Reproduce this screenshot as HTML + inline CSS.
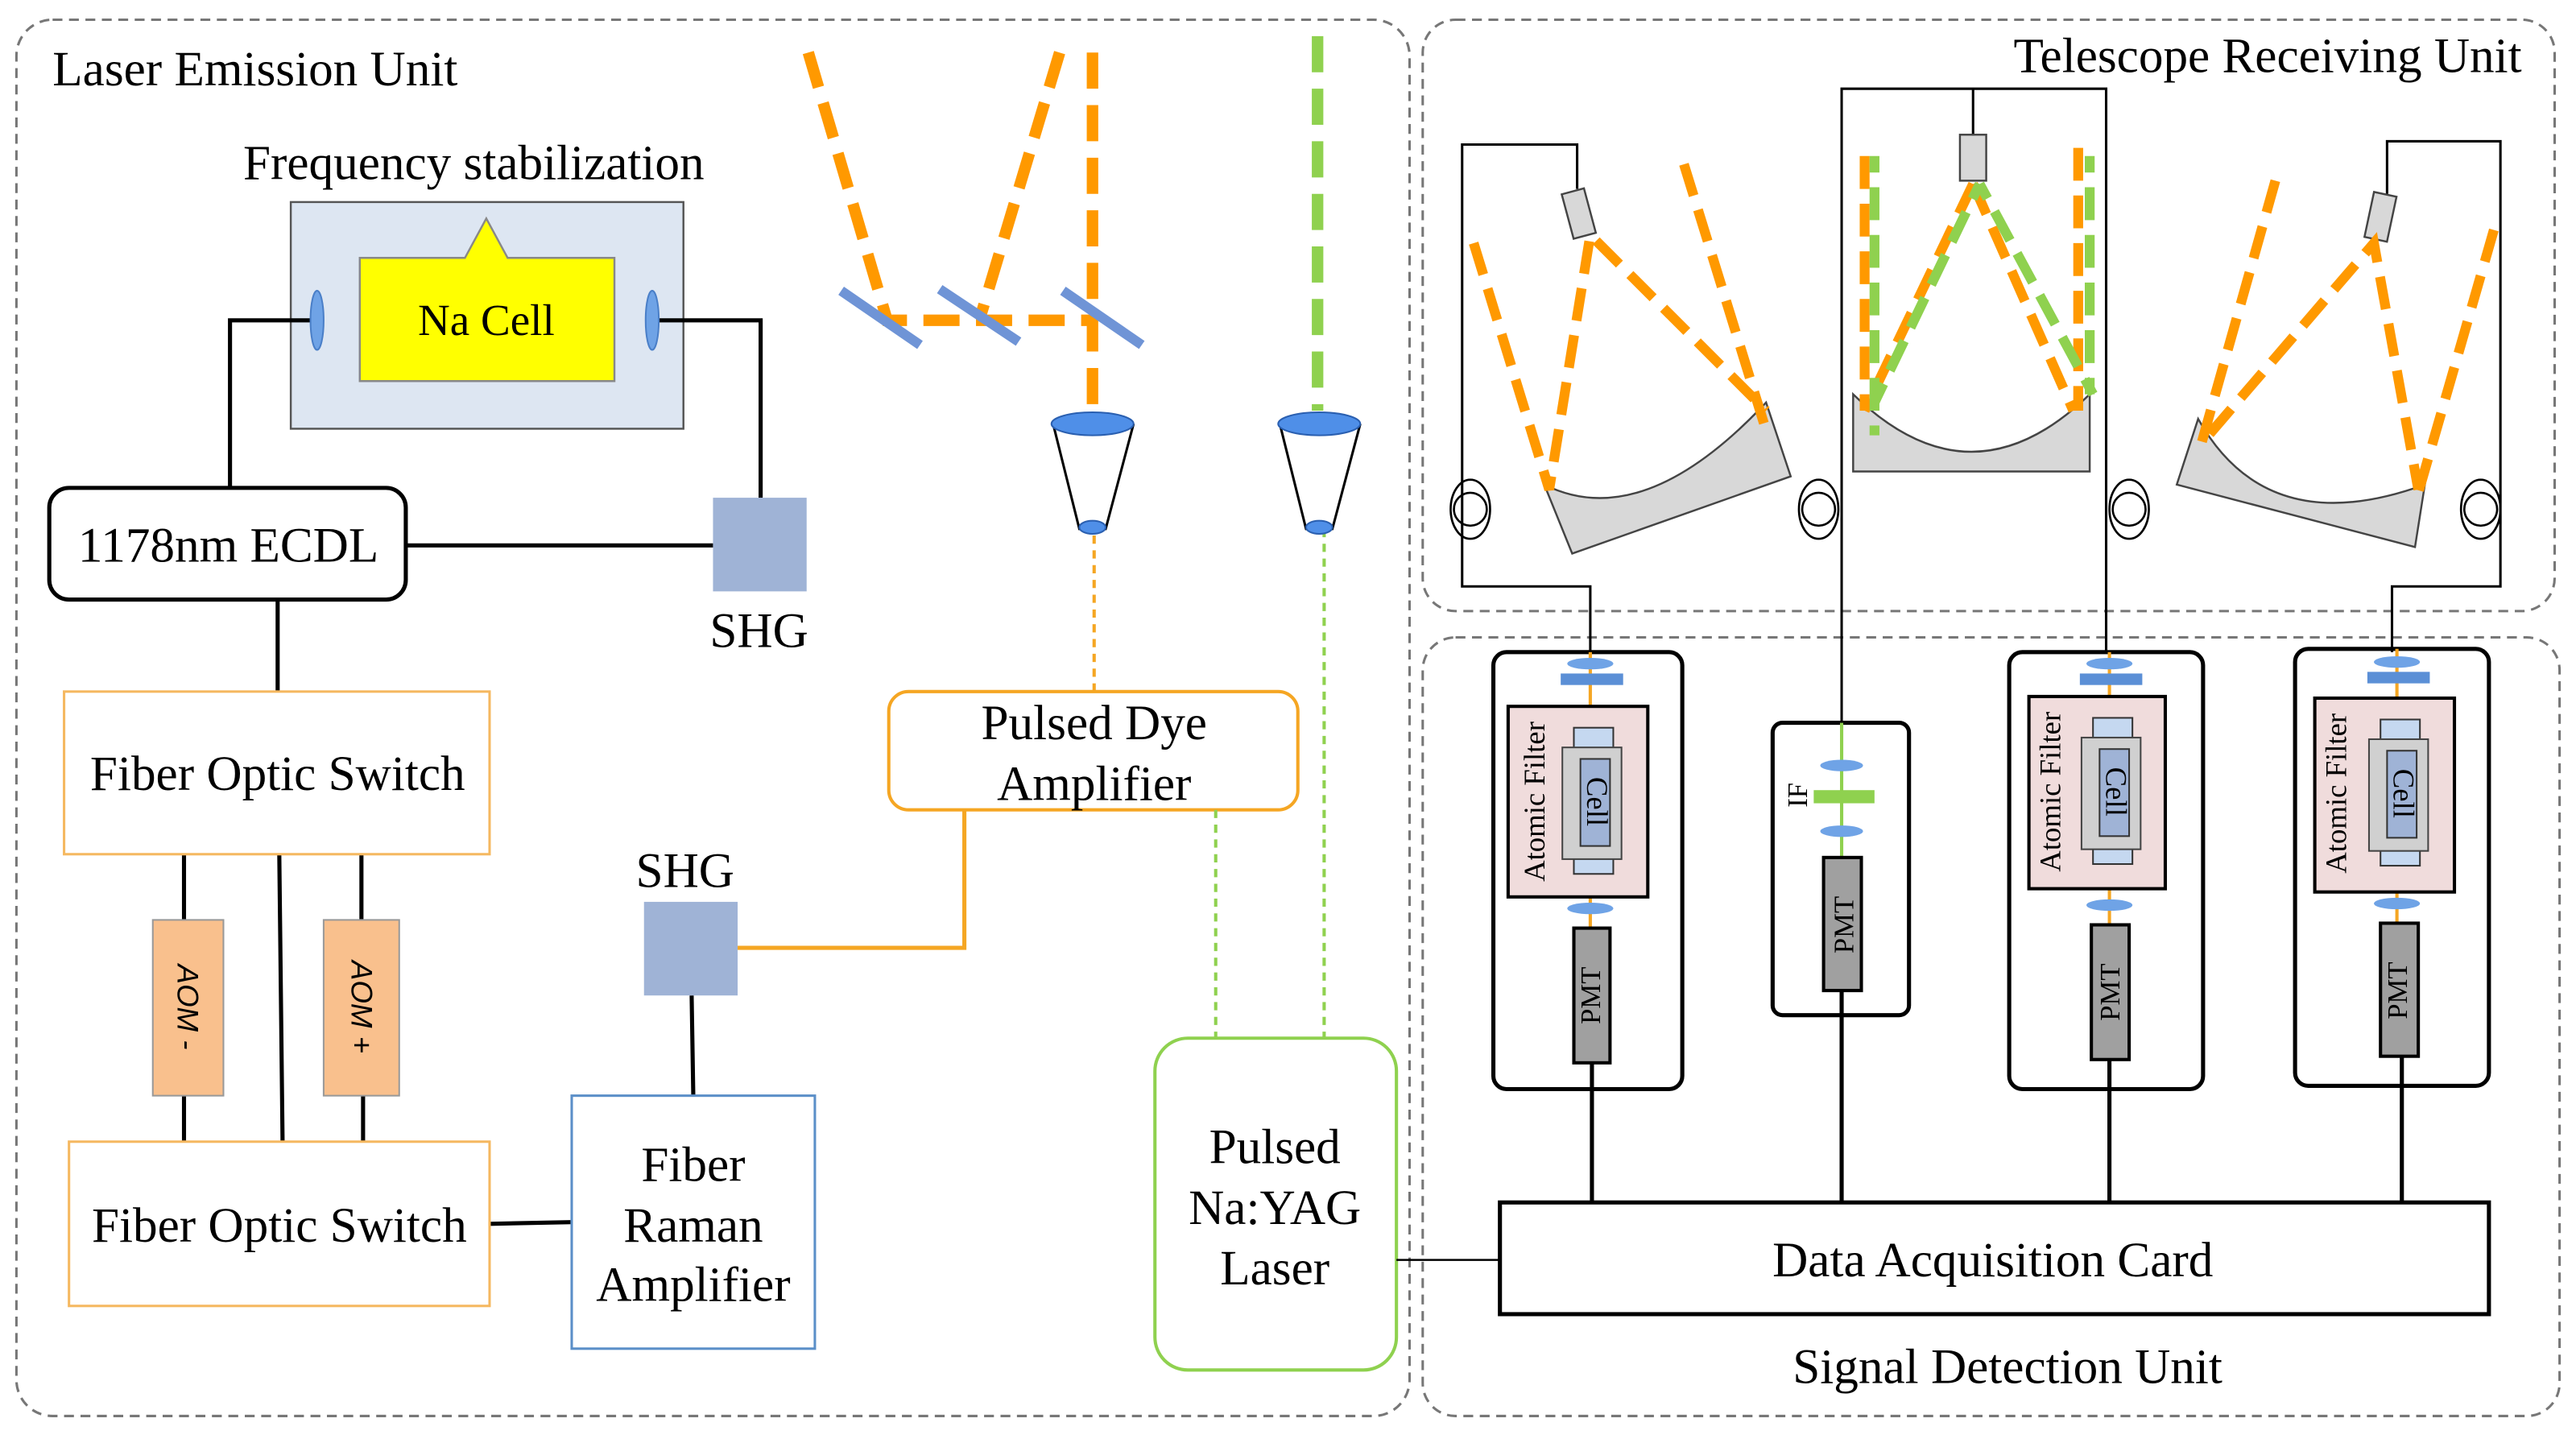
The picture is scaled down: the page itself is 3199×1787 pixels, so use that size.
<!DOCTYPE html>
<html><head><meta charset="utf-8"><style>html,body{margin:0;padding:0;background:#fff}svg{display:block}</style></head><body>
<svg width="3199" height="1787" viewBox="0 0 1568 876" preserveAspectRatio="none" xmlns="http://www.w3.org/2000/svg" font-family="Liberation Serif, serif">
<g fill="none" stroke="#777" stroke-width="1.5" stroke-dasharray="6,4">
<rect x="10" y="12" width="848" height="850" rx="22"/>
<rect x="866" y="12" width="689" height="360" rx="20"/>
<rect x="866" y="388" width="692" height="474" rx="20"/>
</g>
<g font-size="30" fill="#000">
<text x="32" y="52">Laser Emission Unit</text>
<text x="148" y="109">Frequency stabilization</text>
<text x="1535" y="44" text-anchor="end">Telescope Receiving Unit</text>
<text x="1222" y="842" text-anchor="middle">Signal Detection Unit</text>
</g>
<!-- freq stab -->
<rect x="177" y="123" width="239" height="138" fill="#dde6f2" stroke="#555" stroke-width="1.2"/>
<path d="M219,157 H283 L296,133 L309,157 H374 V232 H219 Z" fill="#ffff00" stroke="#888" stroke-width="1.2"/>
<text x="296" y="204" font-size="27" text-anchor="middle">Na Cell</text>
<g stroke="#000" stroke-width="2.5" fill="none">
<path d="M189,195 H140 V297"/><path d="M401,195 H463 V303"/>
<path d="M247,332 H434"/><path d="M169,365 V421"/>
<path d="M112,520 V560 M170,520 L172,695 M220,520 V560 M112,667 V695 M221,667 V695"/>
<path d="M298,745 L348,744"/><path d="M422,667 L421,606"/>
</g>
<ellipse cx="193" cy="195" rx="4" ry="18" fill="#6fa3e6" stroke="#4a7fc8"/>
<ellipse cx="397" cy="195" rx="4" ry="18" fill="#6fa3e6" stroke="#4a7fc8"/>
<rect x="30" y="297" width="217" height="68" rx="12" fill="#fff" stroke="#000" stroke-width="2.5"/>
<text x="139" y="342" font-size="30" text-anchor="middle">1178nm ECDL</text>
<rect x="434" y="303" width="57" height="57" fill="#9fb3d6"/>
<text x="462" y="394" font-size="30" text-anchor="middle">SHG</text>
<rect x="39" y="421" width="259" height="99" fill="#fff" stroke="#f5b860" stroke-width="1.5"/>
<text x="169" y="481" font-size="30" text-anchor="middle">Fiber Optic Switch</text>
<rect x="93" y="560" width="43" height="107" fill="#f9c08d" stroke="#999"/>
<rect x="197" y="560" width="46" height="107" fill="#f9c08d" stroke="#999"/>
<text transform="translate(108,613) rotate(90)" font-family="Liberation Sans, sans-serif" font-style="italic" font-size="18" text-anchor="middle">AOM -</text>
<text transform="translate(214,613) rotate(90)" font-family="Liberation Sans, sans-serif" font-style="italic" font-size="18" text-anchor="middle">AOM +</text>
<rect x="42" y="695" width="256" height="100" fill="#fff" stroke="#f5b860" stroke-width="1.5"/>
<text x="170" y="756" font-size="30" text-anchor="middle">Fiber Optic Switch</text>
<rect x="348" y="667" width="148" height="154" fill="#fff" stroke="#5b8fc8" stroke-width="1.5"/>
<g font-size="30" text-anchor="middle"><text x="422" y="719">Fiber</text><text x="422" y="756">Raman</text><text x="422" y="792">Amplifier</text></g>
<rect x="392" y="549" width="57" height="57" fill="#9fb3d6"/>
<text x="417" y="540" font-size="30" text-anchor="middle">SHG</text>
<path d="M449,577 H587 V493" fill="none" stroke="#f5a623" stroke-width="2.5"/>
<rect x="541" y="421" width="249" height="72" rx="12" fill="#fff" stroke="#f5a623" stroke-width="2"/>
<g font-size="30" text-anchor="middle"><text x="666" y="450">Pulsed Dye</text><text x="666" y="487">Amplifier</text></g>
<path d="M666,421 V322" stroke="#f5a623" stroke-width="2" stroke-dasharray="5,4"/>
<path d="M740,493 V632 M806,322 V632" stroke="#8fd14f" stroke-width="2" stroke-dasharray="5,4"/>
<rect x="703" y="632" width="147" height="202" rx="20" fill="#fff" stroke="#8fd14f" stroke-width="2"/>
<g font-size="30" text-anchor="middle"><text x="776" y="708">Pulsed</text><text x="776" y="745">Na:YAG</text><text x="776" y="782">Laser</text></g>
<path d="M850,767 H913" stroke="#000" stroke-width="1.2"/>
<!-- top beams -->
<g fill="none" stroke="#ff9900" stroke-width="7" stroke-dasharray="22,10">
<path d="M492,32 L540,195 H665"/><path d="M645,32 L597,192"/><path d="M665,32 V250"/>
</g>
<path d="M802,22 V250" stroke="#8fd14f" stroke-width="7" stroke-dasharray="22,10"/>
<g stroke="#6f94d6" stroke-width="6"><path d="M512,177 L560,210"/><path d="M572,176 L620,208"/><path d="M647,177 L695,210"/></g>
<!-- expanders -->
<g fill="#fff" stroke="#000" stroke-width="1.5">
<path d="M641,258 L657,322 H673 L690,258"/><path d="M779,258 L795,322 H811 L828,258"/></g>
<g fill="#4f8fe8" stroke="#2a5fb0"><ellipse cx="665" cy="258" rx="25" ry="7"/><ellipse cx="665" cy="321" rx="8" ry="4"/>
<ellipse cx="803" cy="258" rx="25" ry="7"/><ellipse cx="803" cy="321" rx="8" ry="4"/></g>
<!-- telescopes -->
<g fill="none" stroke="#000" stroke-width="1.5">
<path d="M968,397 V357 H890 V88 H960 V115"/>
<path d="M1121,440 V54 H1282 V397 M1201,54 V85"/>
<path d="M1456,397 V357 H1522 V86 H1453 V118"/>
</g>
<g fill="#d8d8d8" stroke="#444" stroke-width="1.2">
<path d="M940,295 Q1000,325 1075,245 L1090,290 L957,337 Z"/>
<path d="M1128,240 Q1200,310 1272,240 V287 H1128 Z"/>
<path d="M1338,255 Q1380,330 1476,295 L1470,333 L1325,295 Z"/>
<rect x="954" y="116" width="14" height="28" transform="rotate(-15 961 130)"/>
<rect x="1193" y="82" width="16" height="28"/>
<rect x="1442" y="118" width="14" height="28" transform="rotate(12 1449 132)"/>
</g>
<g fill="none" stroke="#ff9900" stroke-width="6" stroke-dasharray="20,9">
<path d="M897,148 L943,298 L968,143 L1075,250"/><path d="M1025,100 L1075,262"/>
<path d="M1135,95 V250 M1265,90 V250"/><path d="M1201,112 L1135,250 M1201,112 L1262,250"/>
<path d="M1385,110 L1340,270 L1445,148 L1472,298"/><path d="M1518,140 L1472,300"/>
</g>
<g fill="none" stroke="#8fd14f" stroke-width="6" stroke-dasharray="20,9" stroke-dashoffset="10">
<path d="M1141,95 V265 M1272,95 V240"/><path d="M1205,112 L1141,245 M1205,112 L1274,240"/>
</g>
<g fill="none" stroke="#000" stroke-width="1.3">
<ellipse cx="895" cy="310" rx="12" ry="18"/><circle cx="895" cy="310" r="10"/>
<ellipse cx="1107" cy="310" rx="12" ry="18"/><circle cx="1107" cy="310" r="10"/>
<ellipse cx="1296" cy="310" rx="12" ry="18"/><circle cx="1296" cy="310" r="10"/>
<ellipse cx="1510" cy="310" rx="12" ry="18"/><circle cx="1510" cy="310" r="10"/>
</g>
<!-- detection -->
<g fill="none" stroke="#000" stroke-width="2.5">
<rect x="909" y="397" width="115" height="266" rx="8"/>
<rect x="1079" y="440" width="83" height="178" rx="6"/>
<rect x="1223" y="397" width="118" height="266" rx="8"/>
<rect x="1397" y="395" width="118" height="266" rx="8"/>
<path d="M969,647 V732 M1121,603 V732 M1284,645 V732 M1462,643 V732"/>
</g>
<rect x="913" y="732" width="602" height="68" fill="#fff" stroke="#000" stroke-width="2.5"/>
<text x="1213" y="777" font-size="30" text-anchor="middle">Data Acquisition Card</text>
<!-- IF box -->
<path d="M1121,440 V522" stroke="#8fd14f" stroke-width="2"/>
<ellipse cx="1121" cy="466" rx="13" ry="3.5" fill="#6fa3e6"/><ellipse cx="1121" cy="506" rx="13" ry="3.5" fill="#6fa3e6"/>
<rect x="1104" y="481" width="37" height="8" fill="#8fd14f"/>
<text transform="translate(1100,484) rotate(-90)" font-size="17" text-anchor="middle">IF</text>
<rect x="1110" y="522" width="23" height="81" fill="#a0a0a0" stroke="#000" stroke-width="2"/>
<text transform="translate(1128,563) rotate(-90)" font-size="17" text-anchor="middle">PMT</text>
<!-- atomic filter groups -->
<g transform="translate(968,430)">
<path d="M0,-33 V0 M0,116 V135" stroke="#f5a623" stroke-width="2"/>
<ellipse cx="0" cy="-26" rx="14" ry="3.5" fill="#6fa3e6"/><rect x="-18" y="-20" width="38" height="7" fill="#5b8fd6"/>
<rect x="-50" y="0" width="85" height="116" fill="#f0dcdc" stroke="#000" stroke-width="2"/>
<text transform="translate(-28,58) rotate(-90)" font-size="18" text-anchor="middle">Atomic Filter</text>
<rect x="-10" y="13" width="24" height="17" fill="#c5d8f0" stroke="#333"/><rect x="-10" y="85" width="24" height="17" fill="#c5d8f0" stroke="#333"/>
<rect x="-17" y="25" width="36" height="68" fill="#d0d0d0" stroke="#444"/>
<rect x="-6" y="32" width="18" height="53" fill="#9fb3d6" stroke="#333"/>
<text transform="translate(-2,58) rotate(90)" font-size="18" text-anchor="middle">Cell</text>
<ellipse cx="0" cy="123" rx="14" ry="3.5" fill="#6fa3e6"/>
<rect x="-10" y="135" width="22" height="82" fill="#a0a0a0" stroke="#000" stroke-width="2"/>
<text transform="translate(6,176) rotate(-90)" font-size="17" text-anchor="middle">PMT</text>
</g>
<g transform="translate(1284,424)">
<path d="M0,-27 V0 M0,117 V139" stroke="#f5a623" stroke-width="2"/>
<ellipse cx="0" cy="-20" rx="14" ry="3.5" fill="#6fa3e6"/><rect x="-18" y="-14" width="38" height="7" fill="#5b8fd6"/>
<rect x="-49" y="0" width="83" height="117" fill="#f0dcdc" stroke="#000" stroke-width="2"/>
<text transform="translate(-30,58) rotate(-90)" font-size="18" text-anchor="middle">Atomic Filter</text>
<rect x="-10" y="13" width="24" height="17" fill="#c5d8f0" stroke="#333"/><rect x="-10" y="85" width="24" height="17" fill="#c5d8f0" stroke="#333"/>
<rect x="-17" y="25" width="36" height="68" fill="#d0d0d0" stroke="#444"/>
<rect x="-6" y="32" width="18" height="53" fill="#9fb3d6" stroke="#333"/>
<text transform="translate(-2,58) rotate(90)" font-size="18" text-anchor="middle">Cell</text>
<ellipse cx="0" cy="127" rx="14" ry="3.5" fill="#6fa3e6"/>
<rect x="-11" y="139" width="23" height="82" fill="#a0a0a0" stroke="#000" stroke-width="2"/>
<text transform="translate(6,180) rotate(-90)" font-size="17" text-anchor="middle">PMT</text>
</g>
<g transform="translate(1459,425)">
<path d="M0,-30 V0 M0,118 V137" stroke="#f5a623" stroke-width="2"/>
<ellipse cx="0" cy="-22" rx="14" ry="3.5" fill="#6fa3e6"/><rect x="-18" y="-16" width="38" height="7" fill="#5b8fd6"/>
<rect x="-50" y="0" width="85" height="118" fill="#f0dcdc" stroke="#000" stroke-width="2"/>
<text transform="translate(-31,58) rotate(-90)" font-size="18" text-anchor="middle">Atomic Filter</text>
<rect x="-10" y="13" width="24" height="17" fill="#c5d8f0" stroke="#333"/><rect x="-10" y="85" width="24" height="17" fill="#c5d8f0" stroke="#333"/>
<rect x="-17" y="25" width="36" height="68" fill="#d0d0d0" stroke="#444"/>
<rect x="-6" y="32" width="18" height="53" fill="#9fb3d6" stroke="#333"/>
<text transform="translate(-2,58) rotate(90)" font-size="18" text-anchor="middle">Cell</text>
<ellipse cx="0" cy="125" rx="14" ry="3.5" fill="#6fa3e6"/>
<rect x="-10" y="137" width="23" height="81" fill="#a0a0a0" stroke="#000" stroke-width="2"/>
<text transform="translate(6,178) rotate(-90)" font-size="17" text-anchor="middle">PMT</text>
</g>
</svg>
</body></html>
